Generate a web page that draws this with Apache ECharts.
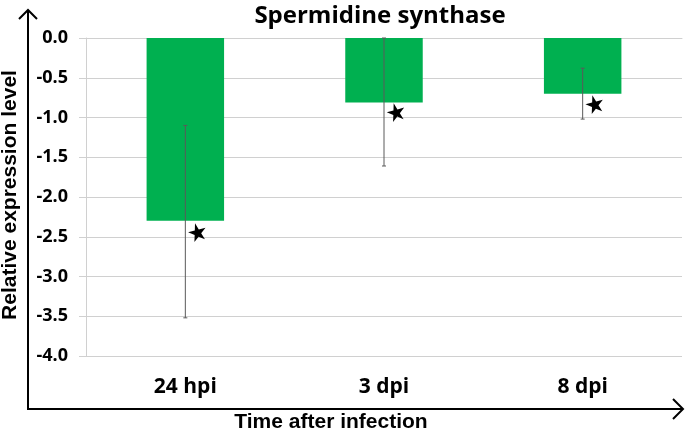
<!DOCTYPE html>
<html>
<head>
<meta charset="utf-8">
<script src="https://cdn.jsdelivr.net/npm/echarts@6/dist/echarts.min.js"></script>
<style>
  html, body { margin: 0; padding: 0; background: #fff; }
  #chart { width: 685px; height: 433px; }
</style>
</head>
<body>
<div id="chart"></div>
<script>
// data
var categories = ['24 hpi', '3 dpi', '8 dpi'];
var expression = [-2.3, -0.81, -0.7];
var errLow = [-3.52, -1.61, -1.02];
var errHigh = [-1.1, 0.0, -0.38];
var starValues = [-2.44, -0.93, -0.83];

var FONT = '"Open Sans", Lato, sans-serif';
var TITLE_FONT = '"Liberation Sans", Arial, sans-serif';
var STAR = 'path://M50,0 L61,35 L98,35 L68,57 L79,91 L50,70 L21,91 L32,57 L2,35 L39,35 Z';

var chart = echarts.init(document.getElementById('chart'));

var errData = categories.map(function (c, i) {
    return [i, errLow[i], errHigh[i]];
});

chart.setOption({
    animation: false,
    title: {
        text: 'Spermidine synthase',
        left: 375, top: -1, textAlign: 'center',
        textStyle: { fontFamily: FONT, fontWeight: 'bold', fontSize: 24, color: '#000' }
    },
    grid: { left: 86, right: 3, top: 38, bottom: 77 },
    xAxis: [{
        type: 'category',
        data: categories,
        position: 'top',
        axisLine: { lineStyle: { color: '#d0d0d0' } },
        axisTick: { inside: true, length: 7, lineStyle: { color: '#d0d0d0' } },
        axisLabel: { show: false }
    }, {
        type: 'category',
        data: categories,
        position: 'bottom',
        axisLine: { show: false },
        axisTick: { show: false },
        axisLabel: {
            margin: 21, fontFamily: FONT, fontWeight: 'bold', fontSize: 21, color: '#000'
        }
    }],
    yAxis: {
        type: 'value',
        min: -4, max: 0, interval: 0.5,
        axisLine: { show: true, lineStyle: { color: '#d0d0d0' } },
        axisTick: { show: true, length: 7, lineStyle: { color: '#d0d0d0' } },
        splitLine: { lineStyle: { color: '#d0d0d0' } },
        axisLabel: {
            margin: 18, fontFamily: FONT, fontWeight: 'bold', fontSize: 18, color: '#000',
            formatter: function (v) { return v.toFixed(1); }
        }
    },
    graphic: [
        { type: 'polyline', shape: { points: [[28, 10], [28, 409], [683, 409]] },
          style: { stroke: '#000', lineWidth: 2, fill: null } },
        { type: 'polyline', shape: { points: [[19, 19], [28, 10], [37, 19]] },
          style: { stroke: '#000', lineWidth: 2, fill: null } },
        { type: 'polyline', shape: { points: [[673, 399], [683, 409], [673, 419]] },
          style: { stroke: '#000', lineWidth: 2, fill: null } },
        { type: 'text', x: 331, y: 412,
          style: { text: 'Time after infection', fontFamily: TITLE_FONT, fontWeight: 'bold', fontSize: 21,
                   fill: '#000', align: 'center', verticalAlign: 'top' } },
        { type: 'text', x: 0, y: 195, rotation: Math.PI / 2, originX: 0, originY: 0,
          style: { text: 'Relative expression level', fontFamily: TITLE_FONT, fontWeight: 'bold', fontSize: 21,
                   fill: '#000', align: 'center', verticalAlign: 'top' } }
    ],
    series: [{
        type: 'bar',
        xAxisIndex: 0,
        data: expression,
        barWidth: '39%',
        itemStyle: { color: '#00b050' }
    }, {
        type: 'custom',
        xAxisIndex: 0,
        data: errData,
        z: 5,
        renderItem: function (params, api) {
            var x = api.value(0);
            var lo = api.coord([x, api.value(1)]);
            var hi = api.coord([x, api.value(2)]);
            var cap = 2;
            var st = { stroke: '#5a5a5a', lineWidth: 1 };
            return {
                type: 'group',
                children: [
                    { type: 'line', shape: { x1: lo[0], y1: lo[1], x2: hi[0], y2: hi[1] }, style: st },
                    { type: 'line', shape: { x1: lo[0] - cap, y1: lo[1], x2: lo[0] + cap, y2: lo[1] }, style: st },
                    { type: 'line', shape: { x1: hi[0] - cap, y1: hi[1], x2: hi[0] + cap, y2: hi[1] }, style: st }
                ]
            };
        }
    }, {
        type: 'scatter',
        xAxisIndex: 0,
        data: starValues,
        symbol: STAR,
        symbolSize: 18,
        symbolRotate: 15,
        symbolOffset: [12, 0],
        z: 6,
        itemStyle: { color: '#000', opacity: 1 }
    }]
});
</script>
</body>
</html>
